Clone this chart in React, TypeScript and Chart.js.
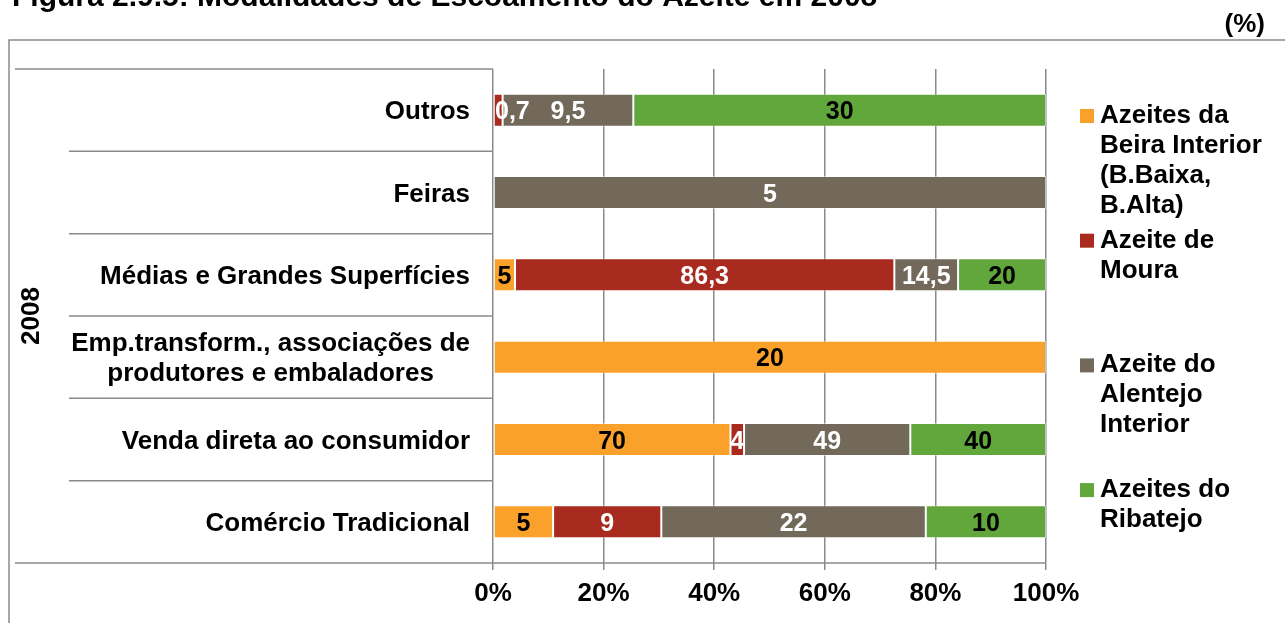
import React, { useEffect, useRef } from 'react';
import { Chart, registerables } from 'chart.js';

Chart.register(...registerables);

// ---- data ----
const categories: string[][] = [
  ['Outros'],
  ['Feiras'],
  ['Médias e Grandes Superfícies'],
  ['Emp.transform., associações de', 'produtores e embaladores'],
  ['Venda direta ao consumidor'],
  ['Comércio Tradicional'],
];
const groupLabel = '2008';
const seriesNames: string[][] = [
  ['Azeites da', 'Beira Interior', '(B.Baixa,', 'B.Alta)'],
  ['Azeite de', 'Moura'],
  ['Azeite do', 'Alentejo', 'Interior'],
  ['Azeites do', 'Ribatejo'],
];
const beiraInterior: (number | null)[] = [null, null, 5, 20, 70, 5];
const moura: (number | null)[] = [0.7, null, 86.3, null, 4, 9];
const alentejoInterior: (number | null)[] = [9.5, 5, 14.5, null, 49, 22];
const ribatejo: (number | null)[] = [30, null, 20, null, 40, 10];
const xTicks = [0, 20, 40, 60, 80, 100];
const titleText = 'Figura 2.9.5: Modalidades de Escoamento do Azeite em 2008';
const unitText = '(%)';

const colors = ['#F9A12A', '#A92A1E', '#72695B', '#62A73C'];
const labelColors = ['#000000', '#ffffff', '#ffffff', '#000000'];
const FONT = '"Liberation Sans", Arial, sans-serif';
const GRID = '#8a8a8a';

const rawSeries = [beiraInterior, moura, alentejoInterior, ribatejo];
const totals = categories.map((_, j) =>
  rawSeries.reduce((s, arr) => s + (arr[j] ?? 0), 0)
);
const pctSeries = rawSeries.map((arr) =>
  arr.map((v, j) => (v == null ? null : (v / totals[j]) * 100))
);

const fmt = (v: number) => String(v).replace('.', ',');

const decorPlugin = {
  id: 'decor',
  afterDatasetsDraw(chart: any) {
    const ctx = chart.ctx as CanvasRenderingContext2D;
    const area = chart.chartArea;
    ctx.save();
    ctx.font = `bold 25px ${FONT}`;
    ctx.textBaseline = 'alphabetic';
    ctx.textAlign = 'center';
    chart.data.datasets.forEach((ds: any, i: number) => {
      const meta = chart.getDatasetMeta(i);
      meta.data.forEach((el: any, j: number) => {
        const raw = rawSeries[i][j];
        if (raw == null) return;
        const p = el.getProps(['x', 'base', 'y'], true);
        const txt = fmt(raw);
        const w = ctx.measureText(txt).width;
        let cx = (p.x + p.base) / 2;
        cx = Math.max(cx, area.left + w / 2 + 2);
        cx = Math.min(cx, area.right - w / 2 - 2);
        ctx.fillStyle = labelColors[i];
        ctx.fillText(txt, cx, p.y + 9);
      });
    });
    ctx.restore();
  },
  afterDraw(chart: any) {
    const ctx = chart.ctx as CanvasRenderingContext2D;
    const area = chart.chartArea;
    const W = chart.width;
    const H = chart.height;
    ctx.save();

    // outer frame
    ctx.strokeStyle = GRID;
    ctx.lineWidth = 1.5;
    ctx.beginPath();
    ctx.moveTo(9, H + 5);
    ctx.lineTo(9, 40);
    ctx.lineTo(W + 5, 40);
    ctx.stroke();

    // title (cut at top) and unit
    ctx.fillStyle = '#000';
    ctx.font = `bold 30px ${FONT}`;
    ctx.textBaseline = 'alphabetic';
    ctx.textAlign = 'left';
    ctx.fillText(titleText, 12, 6);
    ctx.font = `bold 26px ${FONT}`;
    ctx.textAlign = 'right';
    ctx.fillText(unitText, 1265, 32);

    // category separators
    const n = categories.length;
    const band = (area.bottom - area.top) / n;
    ctx.strokeStyle = GRID;
    ctx.lineWidth = 1.5;
    for (let k = 0; k <= n; k++) {
      const y = area.top + k * band;
      const x0 = k === 0 || k === n ? 15 : 69;
      const x1 = k === n ? area.right : area.left;
      ctx.beginPath();
      ctx.moveTo(x0, y);
      ctx.lineTo(x1, y);
      ctx.stroke();
    }

    // category labels
    const yScale = chart.scales.y;
    ctx.fillStyle = '#000';
    ctx.font = `bold 26px ${FONT}`;
    ctx.textAlign = 'center';
    const rightEdge = area.left - 23;
    const lh = 30;
    categories.forEach((lines, j) => {
      const yc = yScale.getPixelForValue(j);
      const maxW = Math.max(...lines.map((l) => ctx.measureText(l).width));
      const cx = rightEdge - maxW / 2;
      const y0 = yc - ((lines.length - 1) * lh) / 2;
      lines.forEach((l, li) => {
        ctx.fillText(l, cx, y0 + li * lh + 9.3);
      });
    });

    // group label
    ctx.save();
    ctx.translate(32, (area.top + area.bottom) / 2);
    ctx.rotate(-Math.PI / 2);
    ctx.textAlign = 'center';
    ctx.textBaseline = 'middle';
    ctx.fillText(groupLabel, 0, 0);
    ctx.restore();

    // legend
    ctx.textAlign = 'left';
    ctx.textBaseline = 'alphabetic';
    seriesNames.forEach((lines, i) => {
      const base = 123 + i * 124.7;
      ctx.fillStyle = colors[i];
      ctx.fillRect(1080, base - 14, 14, 14);
      ctx.fillStyle = '#000';
      lines.forEach((l, li) => ctx.fillText(l, 1100, base + li * 30));
    });

    ctx.restore();
  },
};

export default function App() {
  const ref = useRef<HTMLCanvasElement | null>(null);
  useEffect(() => {
    document.body.style.margin = '0';
    const canvas = ref.current;
    if (!canvas) return;
    const chart = new Chart(canvas, {
      type: 'bar',
      data: {
        labels: categories.map((c) => c.join(' ')),
        datasets: pctSeries.map((d, i) => ({
          label: seriesNames[i].join(' '),
          data: d,
          backgroundColor: colors[i],
          borderColor: 'rgba(255,255,255,0.45)',
          borderWidth: 1,
          borderSkipped: false,
          categoryPercentage: 1,
          barPercentage: 0.4,
        })),
      },
      options: {
        indexAxis: 'y',
        animation: false,
        responsive: false,
        devicePixelRatio: 1,
        layout: { padding: { left: 0, right: 239, top: 69, bottom: 0 } },
        plugins: {
          legend: { display: false },
          tooltip: { enabled: false },
          title: { display: false },
        },
        scales: {
          x: {
            stacked: true,
            min: 0,
            max: 100,
            afterBuildTicks: (scale: any) => {
              scale.ticks = xTicks.map((v) => ({ value: v }));
            },
            afterFit: (scale: any) => {
              scale.height = 60;
            },
            ticks: {
              callback: (v: any) => `${v}%`,
              color: '#000',
              font: { family: FONT, size: 26, weight: 'bold' },
              padding: 8,
              maxRotation: 0,
            },
            grid: {
              color: GRID,
              lineWidth: 1.5,
              drawTicks: true,
              tickLength: 7,
            },
            border: { display: false },
          },
          y: {
            stacked: true,
            afterFit: (scale: any) => {
              scale.width = 493;
            },
            ticks: { display: false },
            grid: { display: false, drawTicks: false },
            border: { display: false },
          },
        },
      },
      plugins: [decorPlugin],
    } as any);
    return () => chart.destroy();
  }, []);
  return (
    <div style={{ width: 1285, height: 623, position: 'relative' }}>
      <canvas ref={ref} width={1285} height={623} />
    </div>
  );
}
